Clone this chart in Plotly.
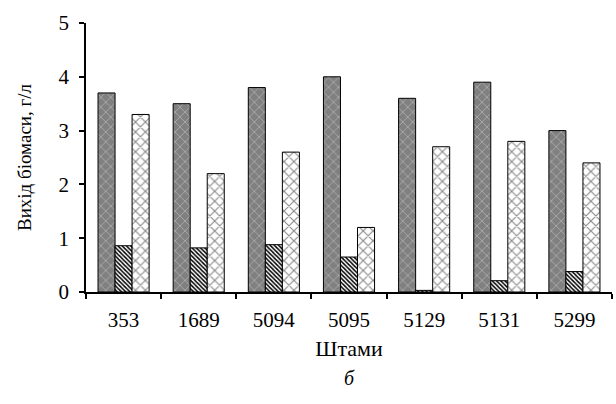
import plotly.graph_objects as go

strains = ["353", "1689", "5094", "5095", "5129", "5131", "5299"]
series_a = [3.7, 3.5, 3.8, 4.0, 3.6, 3.9, 3.0]
series_b = [0.86, 0.82, 0.88, 0.65, 0.03, 0.21, 0.38]
series_c = [3.3, 2.2, 2.6, 1.2, 2.7, 2.8, 2.4]
y_ticks = [0, 1, 2, 3, 4, 5]

FONT = "Times New Roman"

fig = go.Figure()
fig.add_trace(go.Bar(
    x=strains, y=series_a, name="a",
    marker=dict(color="#808080", line=dict(color="black", width=1),
                pattern=dict(shape="x", fgcolor="#a8a8a8", bgcolor="#808080",
                             size=7, solidity=0.25, fillmode="replace")),
))
fig.add_trace(go.Bar(
    x=strains, y=series_b, name="b",
    marker=dict(color="white", line=dict(color="black", width=1),
                pattern=dict(shape="\\", fgcolor="black", bgcolor="white",
                             size=3, solidity=0.5, fillmode="replace")),
))
fig.add_trace(go.Bar(
    x=strains, y=series_c, name="c",
    marker=dict(color="white", line=dict(color="black", width=1),
                pattern=dict(shape="x", fgcolor="#8a8a8a", bgcolor="white",
                             size=7, solidity=0.3, fillmode="replace")),
))

fig.update_layout(
    width=616, height=404,
    margin=dict(l=86, r=4, t=23, b=112),
    paper_bgcolor="white", plot_bgcolor="white",
    barmode="group", bargap=0.32, bargroupgap=0,
    showlegend=False,
    font=dict(family=FONT, size=20, color="black"),
    xaxis=dict(
        showline=True, linecolor="black", linewidth=1.5,
        ticks="outside", ticklen=5, tickwidth=1.5, tickcolor="black",
        tickson="boundaries", showgrid=False, automargin=False,
        tickfont=dict(family=FONT, size=21), ticklabelstandoff=8,
        title=dict(text="Штами", font=dict(family=FONT, size=22), standoff=10),
    ),
    yaxis=dict(
        range=[0, 5], tickvals=y_ticks, automargin=False,
        showline=True, linecolor="black", linewidth=1.5,
        ticks="outside", ticklen=5, tickwidth=1.5, tickcolor="black",
        showgrid=False, zeroline=False, ticklabelstandoff=6,
        title=dict(text="Вихід біомаси, г/л", font=dict(family=FONT, size=19), standoff=22),
        tickfont=dict(family=FONT, size=21),
    ),
    annotations=[dict(text="<i>б</i>", x=0.5, xref="paper", y=-(378 - 292) / 269,
                      yref="paper", yanchor="middle",
                      showarrow=False, font=dict(family=FONT, size=20))],
)

fig.write_html("out.html", config={"displayModeBar": False},
               post_script="document.body.style.margin='0';document.body.style.padding='0';")
